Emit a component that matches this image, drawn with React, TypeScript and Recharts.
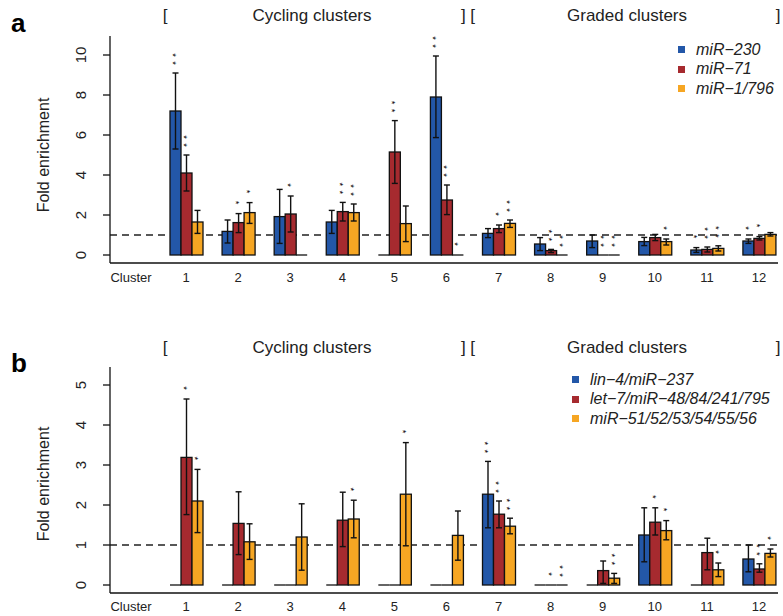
import React from 'react';
import { BarChart, Bar, XAxis, YAxis, ErrorBar, ReferenceLine, Legend } from 'recharts';

const FONT = '"Liberation Sans", Arial, Helvetica, sans-serif';
const COLORS = ['#2357a8', '#a62a2f', '#f6a623'];
const KEYS = ['blue', 'red', 'orange'];

const clusters = ['1', '2', '3', '4', '5', '6', '7', '8', '9', '10', '11', '12'];

// panel a
const aNames = ['miR\u2212230', 'miR\u221271', 'miR\u22121/796'];
const aBlue = [7.2, 1.18, 1.92, 1.65, 0, 7.9, 1.08, 0.55, 0.7, 0.67, 0.25, 0.7];
const aBlueLo = [5.3, 0.6, 0.58, 1.08, null, 5.87, 0.87, 0.22, 0.37, 0.47, 0.13, 0.58];
const aBlueHi = [9.1, 1.75, 3.28, 2.23, null, 9.95, 1.32, 0.87, 1.0, 0.88, 0.37, 0.8];
const aBlueStars = ['**', '', '', '', '', '**', '', '', '', '', '*', '*'];
const aRed = [4.1, 1.62, 2.05, 2.17, 5.15, 2.75, 1.32, 0.22, 0, 0.87, 0.28, 0.83];
const aRedLo = [3.2, 1.12, 1.15, 1.7, 3.58, 2.02, 1.12, 0.12, null, 0.72, 0.15, 0.75];
const aRedHi = [5.0, 2.07, 2.95, 2.63, 6.72, 3.5, 1.5, 0.28, null, 1.03, 0.4, 0.92];
const aRedStars = ['**', '*', '*', '**', '**', '**', '*', '**', '**', '', '**', '*'];
const aOrange = [1.65, 2.12, 0, 2.12, 1.57, 0, 1.58, 0, 0, 0.67, 0.33, 1.03];
const aOrangeLo = [1.08, 1.58, null, 1.7, 0.67, null, 1.38, null, null, 0.5, 0.2, 0.95];
const aOrangeHi = [2.23, 2.62, null, 2.55, 2.45, null, 1.75, null, null, 0.8, 0.46, 1.12];
const aOrangeStars = ['', '*', '', '**', '', '*', '**', '**', '**', '*', '**', ''];
const aTicks = [0, 2, 4, 6, 8, 10];

// panel b
const bNames = ['lin\u22124/miR\u2212237', 'let\u22127/miR\u221248/84/241/795', 'miR\u221251/52/53/54/55/56'];
const bBlue = [0, 0, 0, 0, 0, 0, 2.27, 0, 0, 1.25, 0, 0.65];
const bBlueLo = [null, null, null, null, null, null, 1.43, null, null, 0.58, null, 0.33];
const bBlueHi = [null, null, null, null, null, null, 3.09, null, null, 1.93, null, 1.0];
const bBlueStars = ['', '', '', '', '', '', '**', '', '', '', '', ''];
const bRed = [3.19, 1.54, 0, 1.62, 0, 0, 1.77, 0, 0.36, 1.57, 0.81, 0.4];
const bRedLo = [1.76, 0.76, null, 0.96, null, null, 1.43, null, 0.04, 1.25, 0.38, 0.32];
const bRedHi = [4.65, 2.33, null, 2.32, null, null, 2.1, null, 0.6, 1.93, 1.17, 0.53];
const bRedStars = ['*', '', '', '', '', '', '**', '*', '', '*', '', '**'];
const bOrange = [2.1, 1.08, 1.2, 1.65, 2.27, 1.24, 1.47, 0, 0.17, 1.36, 0.38, 0.79];
const bOrangeLo = [1.31, 0.64, 0.37, 1.18, 0.98, 0.62, 1.28, null, 0.04, 1.13, 0.21, 0.7];
const bOrangeHi = [2.89, 1.53, 2.03, 2.12, 3.56, 1.85, 1.67, null, 0.29, 1.61, 0.55, 0.9];
const bOrangeStars = ['*', '', '', '*', '*', '', '**', '**', '**', '*', '*', '*'];
const bTicks = [0, 1, 2, 3, 4, 5];

const PLOT_LEFT = 110;
const STAR_SIZE = 9.5;

function buildRows(values: number[][], lows: any[][], highs: any[][], stars: string[][]) {
  return clusters.map((c, i) => {
    const row: any = { cluster: c };
    KEYS.forEach((k, s) => {
      const v = values[s][i];
      const lo = lows[s][i];
      const hi = highs[s][i];
      row[k] = v;
      row[k + 'Err'] = lo == null || hi == null ? null : [v - lo, hi - v];
      row[k + 'Top'] = hi == null ? v : hi;
      row[k + 'Star'] = stars[s][i];
    });
    return row;
  });
}

// bar body, or a flat line for empty bars, plus the significance stars.
// the star string is turned 90deg so "**" reads as a vertical stack like in the figure
const makeShape = (key: string, ppu: number) => (props: any) => {
  const { x, y, width, height, fill, payload } = props;
  const base = y + height;
  const top = payload[key + 'Top'] || 0;
  const star: string = payload[key + 'Star'] || '';
  const cx = x + width / 2;
  const topPx = base - top * ppu;
  const by = star.length === 2 ? topPx - 19.8 : topPx - 12.8;
  const bx = cx - 0.585 * STAR_SIZE;
  return (
    <g>
      {height > 0.5 ? (
        <rect x={x} y={y} width={width} height={height} fill={fill} stroke="#111" strokeWidth={1.3} />
      ) : (
        <line x1={x} x2={x + width} y1={base} y2={base} stroke="#111" strokeWidth={1.3} />
      )}
      {star.length > 0 && (
        <text
          x={bx}
          y={by}
          transform={`rotate(90, ${bx}, ${by})`}
          fontSize={STAR_SIZE}
          fontFamily={FONT}
          fill="#000"
          letterSpacing={4.3}
        >
          {star}
        </text>
      )}
    </g>
  );
};

type PanelProps = {
  rows: any[];
  names: string[];
  domain: [number, number];
  ticks: number[];
  height: number;
  marginTop: number;
  xAxisHeight: number;
  marginBottom: number;
  tickOffset: number;
  legendPos: { left: number; top: number };
};

function Panel({ rows, names, domain, ticks, height, marginTop, xAxisHeight, marginBottom, tickOffset, legendPos }: PanelProps) {
  const plotH = height - marginTop - xAxisHeight - marginBottom;
  const ppu = plotH / (domain[1] - domain[0]);

  // keep the series order of the original figure
  const renderLegend = () => (
    <div>
      {names.map((n, i) => (
        <div key={n} style={{ display: 'flex', alignItems: 'center', height: 19.5 }}>
          <span style={{ display: 'inline-block', width: 7, height: 7, background: COLORS[i], marginRight: 11 }} />
          <span style={{ fontStyle: 'italic', fontSize: 16, fontFamily: FONT, color: '#222', whiteSpace: 'nowrap' }}>{n}</span>
        </div>
      ))}
    </div>
  );

  return (
    <BarChart
      width={783}
      height={height}
      data={rows}
      margin={{ top: marginTop, right: 5, bottom: marginBottom, left: PLOT_LEFT - 60 }}
      barCategoryGap={10}
      barGap={0}
    >
      <XAxis
        dataKey="cluster"
        height={xAxisHeight}
        padding={{ left: 50, right: -7 }}
        axisLine={{ stroke: '#111', strokeWidth: 1.3 }}
        tickLine={false}
        tickSize={0}
        tickMargin={0}
        interval={0}
        tick={(p: any) => (
          <text x={p.x} y={p.y + tickOffset} textAnchor="middle" fontSize={13} fontFamily={FONT} fill="#222">
            {p.payload.value}
          </text>
        )}
      />
      <YAxis
        width={60}
        domain={domain}
        ticks={ticks}
        allowDataOverflow
        axisLine={{ stroke: '#111', strokeWidth: 1.3 }}
        tickLine={{ stroke: '#111', strokeWidth: 1.3 }}
        tickSize={7}
        tick={(p: any) => (
          <text
            x={PLOT_LEFT - 24}
            y={p.y}
            transform={`rotate(-90, ${PLOT_LEFT - 24}, ${p.y})`}
            textAnchor="middle"
            fontSize={15}
            fontFamily={FONT}
            fill="#222"
          >
            {p.payload.value}
          </text>
        )}
      />
      <ReferenceLine y={1} stroke="#222" strokeWidth={1.4} strokeDasharray="7 5" zIndex={-100} />
      {KEYS.map((k, s) => (
        <Bar key={k} dataKey={k} name={names[s]} fill={COLORS[s]} isAnimationActive={false} shape={makeShape(k, ppu)}>
          <ErrorBar dataKey={k + 'Err'} width={3} stroke="#111" strokeWidth={1.4} />
        </Bar>
      ))}
      <Legend
        layout="vertical"
        align="center"
        verticalAlign="middle"
        content={renderLegend}
        wrapperStyle={{ left: legendPos.left, top: legendPos.top, width: 'auto', height: 'auto' }}
      />
    </BarChart>
  );
}

function Annotations({ letter, y0, axisY, midY, letterY }: { letter: string; y0: number; axisY: number; midY: number; letterY: number }) {
  return (
    <g fontFamily={FONT} fill="#222">
      <text x={11} y={letterY} fontSize={26} fontWeight="bold" fill="#000">{letter}</text>
      <text x={165} y={y0} fontSize={17} textAnchor="middle">[</text>
      <text x={312} y={y0} fontSize={17} textAnchor="middle">Cycling clusters</text>
      <text x={468} y={y0} fontSize={17} textAnchor="middle">] [</text>
      <text x={627} y={y0} fontSize={17} textAnchor="middle">Graded clusters</text>
      <text x={778} y={y0} fontSize={17} textAnchor="middle">]</text>
      <text x={49} y={midY} fontSize={16} textAnchor="middle" transform={`rotate(-90, 49, ${midY})`}>Fold enrichment</text>
      <text x={131} y={axisY} fontSize={13} textAnchor="middle">Cluster</text>
    </g>
  );
}

export default function App() {
  const rowsA = buildRows([aBlue, aRed, aOrange], [aBlueLo, aRedLo, aOrangeLo], [aBlueHi, aRedHi, aOrangeHi], [aBlueStars, aRedStars, aOrangeStars]);
  const rowsB = buildRows([bBlue, bRed, bOrange], [bBlueLo, bRedLo, bOrangeLo], [bBlueHi, bRedHi, bOrangeHi], [bBlueStars, bRedStars, bOrangeStars]);

  return (
    <div style={{ position: 'absolute', left: 0, top: 0, width: 783, height: 616, background: '#fff', overflow: 'hidden' }}>
      <div style={{ position: 'absolute', left: 0, top: 0 }}>
        <Panel
          rows={rowsA}
          names={aNames}
          domain={[-0.4, 10.95]}
          ticks={aTicks}
          height={300}
          marginTop={36}
          xAxisHeight={30}
          marginBottom={7}
          tickOffset={19}
          legendPos={{ left: 678, top: 40 }}
        />
      </div>
      <div style={{ position: 'absolute', left: 0, top: 300 }}>
        <Panel
          rows={rowsB}
          names={bNames}
          domain={[-0.2, 5.45]}
          ticks={bTicks}
          height={316}
          marginTop={67}
          xAxisHeight={20}
          marginBottom={3}
          tickOffset={18}
          legendPos={{ left: 572, top: 70 }}
        />
      </div>
      <svg width={783} height={616} style={{ position: 'absolute', left: 0, top: 0, pointerEvents: 'none' }}>
        <Annotations letter="a" y0={21} axisY={282} midY={155} letterY={32} />
        <Annotations letter="b" y0={353} axisY={611} midY={484} letterY={372} />
      </svg>
    </div>
  );
}
